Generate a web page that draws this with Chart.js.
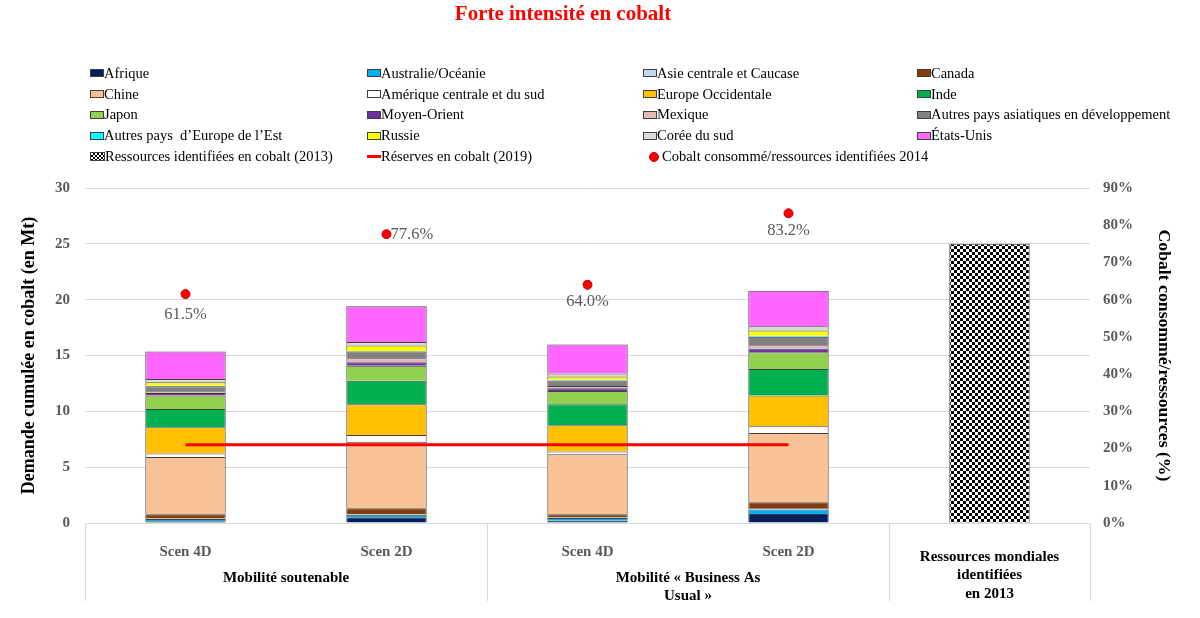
<!DOCTYPE html>
<html><head><meta charset="utf-8">
<script src="https://cdn.jsdelivr.net/npm/chart.js@4.4.1/dist/chart.umd.min.js"></script>
<style>
body{margin:0;background:#fff;width:1200px;height:618px;overflow:hidden;position:relative;font-family:"Liberation Serif",serif}
#title{position:absolute;left:0;width:1126px;top:1px;text-align:center;color:#ff0000;font-weight:bold;font-size:21px;z-index:2}
#legend{position:absolute;left:90px;top:63px;display:grid;grid-template-columns:277px 276px 274px 290px;grid-auto-rows:20.8px;font-size:14.5px;color:#000;z-index:2}
.li{display:flex;align-items:center;white-space:pre}
.li span{flex:0 0 auto}
.sw{width:12px;height:6px;border:1px solid #404040;box-sizing:content-box}
.ln{width:14px;height:3px;background:#ff0000}
.dot{width:8px;height:8px;border-radius:50%;background:#ff0000;border:1px solid #c00000;margin-left:6px;margin-right:3px}
.chk{width:13px;height:7px;background:repeating-conic-gradient(#000 0 25%,#fff 0 50%) 0 0/4px 4px;border:1px solid #404040}
canvas{position:absolute;left:0;top:0}
</style></head>
<body>
<div id="title">Forte intensité en cobalt</div>
<div id="legend"></div>
<canvas id="c" width="1200" height="618"></canvas>
<script>
// ---- data ----
const categories = ["Scen 4D", "Scen 2D", "Scen 4D", "Scen 2D", ""];
const groupLabels = [["Mobilité soutenable"], ["Mobilité « Business As", "Usual »"], ["Ressources mondiales", "identifiées", "en 2013"]];
const groupSpans = [[0, 1], [2, 3], [4, 4]];
const regions = ["Afrique", "Australie/Océanie", "Asie centrale et Caucase", "Canada", "Chine", "Amérique centrale et du sud", "Europe Occidentale", "Inde", "Japon", "Moyen-Orient", "Mexique", "Autres pays asiatiques en développement", "Autres pays  d’Europe de l’Est", "Russie", "Corée du sud", "États-Unis"];
const afrique      = [0.15, 0.51, 0.20, 0.81, null];
const australie    = [0.20, 0.24, 0.24, 0.39, null];
const asieCentrale = [0.05, 0.05, 0.05, 0.15, null];
const canada       = [0.39, 0.51, 0.30, 0.51, null];
const chine        = [5.13, 5.97, 5.37, 6.20, null];
const ameriqueSud  = [0.30, 0.60, 0.24, 0.60, null];
const europeOcc    = [2.36, 2.75, 2.36, 2.75, null];
const inde         = [1.64, 2.12, 1.88, 2.39, null];
const japon        = [1.19, 1.34, 1.19, 1.49, null];
const moyenOrient  = [0.24, 0.30, 0.24, 0.33, null];
const mexique      = [0.15, 0.36, 0.20, 0.30, null];
const autresAsie   = [0.45, 0.60, 0.50, 0.75, null];
const autresEurEst = [0.05, 0.05, 0.05, 0.10, null];
const russie       = [0.30, 0.50, 0.30, 0.48, null];
const coree        = [0.30, 0.30, 0.27, 0.36, null];
const etatsUnis    = [2.45, 3.20, 2.60, 3.19, null];
const ressources2013 = [null, null, null, null, 25];
const reserves2019   = [7, 7, 7, 7, null];
const ratioPct       = [61.5, 77.6, 64.0, 83.2, null];
const ratioLabels    = ["61.5%", "77.6%", "64.0%", "83.2%", null];
const leftTicks  = [0, 5, 10, 15, 20, 25, 30];
const rightTicks = [0, 10, 20, 30, 40, 50, 60, 70, 80, 90];

const regionValues = [afrique, australie, asieCentrale, canada, chine, ameriqueSud, europeOcc, inde, japon, moyenOrient, mexique, autresAsie, autresEurEst, russie, coree, etatsUnis];
const regionColors = ["#002060", "#00B0F0", "#BDD7EE", "#843C0C", "#F8C196", "#FFFFFF", "#FFC000", "#00B050", "#92D050", "#7030A0", "#E6B9B8", "#808080", "#00FFFF", "#FFFF00", "#D9D9D9", "#FF66FF"];

// checker pattern
const pc = document.createElement('canvas'); pc.width = 6; pc.height = 6;
const pctx = pc.getContext('2d');
pctx.fillStyle = '#fff'; pctx.fillRect(0,0,6,6);
pctx.fillStyle = '#000'; pctx.fillRect(0,0,3,3); pctx.fillRect(3,3,3,3);
const ctx = document.getElementById('c').getContext('2d');
const checker = ctx.createPattern(pc, 'repeat');

const datasets = regions.map((r, i) => ({
  type: 'bar', label: r, data: regionValues[i], backgroundColor: regionColors[i],
  borderColor: '#404040', borderWidth: 1, stack: 'a', order: 2, yAxisID: 'y'
}));
datasets.push({type: 'bar', label: 'Ressources identifiées en cobalt (2013)', data: ressources2013, backgroundColor: checker, borderColor: '#404040', borderWidth: 1, stack: 'a', order: 2, yAxisID: 'y'});
datasets.push({type: 'line', label: 'Réserves en cobalt (2019)', data: reserves2019, borderColor: '#FF0000', borderWidth: 3, pointRadius: 0, stack: 'res', order: 1, yAxisID: 'y', spanGaps: false});
datasets.push({type: 'line', label: 'Cobalt consommé/ressources identifiées 2014', data: ratioPct, showLine: false, pointRadius: 4.5, pointBackgroundColor: '#FF0000', pointBorderColor: '#C00000', pointBorderWidth: 1, order: 0, yAxisID: 'y1'});

// legend
const lg = document.getElementById('legend');
datasets.forEach((d, i) => {
  const el = document.createElement('div'); el.className = 'li';
  const sw = document.createElement('span');
  if (i < regions.length) { sw.className = 'sw'; sw.style.background = d.backgroundColor; }
  else if (i === regions.length) sw.className = 'chk';
  else if (i === regions.length + 1) sw.className = 'ln';
  else sw.className = 'dot';
  el.appendChild(sw);
  el.appendChild(document.createTextNode(d.label));
  lg.appendChild(el);
});

const serif = '"Liberation Serif", "Times New Roman", serif';
const extras = {
  id: 'extras',
  afterDraw(chart) {
    const c = chart.ctx, xs = chart.scales.x, ys = chart.scales.y1;
    const bottom = chart.chartArea.bottom;
    c.save();
    c.strokeStyle = '#D9D9D9'; c.lineWidth = 1;
    const bounds = [xs.left, (xs.getPixelForValue(1) + xs.getPixelForValue(2)) / 2, (xs.getPixelForValue(3) + xs.getPixelForValue(4)) / 2, xs.right];
    bounds.forEach(x => { const px = Math.round(x) + 0.5; c.beginPath(); c.moveTo(px, bottom); c.lineTo(px, 601); c.stroke(); });
    // group labels
    c.fillStyle = '#000'; c.font = 'bold 15px ' + serif; c.textAlign = 'center'; c.textBaseline = 'middle';
    groupLabels.forEach((lines, g) => {
      const [a, b] = groupSpans[g];
      const cx = (xs.getPixelForValue(a) + xs.getPixelForValue(b)) / 2;
      const y0 = a === b ? 557 : 578;
      lines.forEach((t, k) => c.fillText(t, cx, y0 + k * 18.5));
    });
    // ratio labels
    c.fillStyle = '#595959'; c.font = '16.5px ' + serif;
    const place = ['below', 'right', 'below', 'below'];
    ratioLabels.forEach((t, i) => {
      if (!t) return;
      const px = xs.getPixelForValue(i), py = ys.getPixelForValue(ratioPct[i]);
      if (place[i] === 'right') { c.textAlign = 'left'; c.fillText(t, px + 4, py + 1); }
      else { c.textAlign = 'center'; c.fillText(t, px, py + (i === 0 ? 21 : 17)); }
    });
    c.restore();
  }
};

new Chart(ctx, {
  data: {labels: categories, datasets},
  options: {
    responsive: false, animation: false,
    layout: {padding: {top: 188, left: 0, right: 0, bottom: 0}},
    plugins: {legend: {display: false}, title: {display: false}, tooltip: {enabled: false}},
    datasets: {bar: {categoryPercentage: 1, barPercentage: 0.4}},
    scales: {
      x: {
        stacked: true, grid: {display: false}, border: {display: true, color: '#D9D9D9'},
        ticks: {color: '#595959', font: {family: serif, size: 15, weight: 'bold'}, padding: 12, maxRotation: 0},
        afterFit: s => { s.height = 95; }
      },
      y: {
        stacked: true, min: 0, max: 30, position: 'left',
        afterBuildTicks: s => { s.ticks = leftTicks.map(v => ({value: v})); },
        grid: {color: '#D9D9D9', drawTicks: false}, border: {display: false},
        ticks: {color: '#595959', font: {family: serif, size: 15, weight: 'bold'}, padding: 15},
        title: {display: true, text: 'Demande cumulée en cobalt (en Mt)', color: '#000', font: {family: serif, size: 18, weight: 'bold'}, padding: {top: 19, bottom: 0}},
        afterFit: s => { s.width = 85; }
      },
      y1: {
        min: 0, max: 90, position: 'right',
        afterBuildTicks: s => { s.ticks = rightTicks.map(v => ({value: v})); },
        grid: {display: false, drawTicks: false}, border: {display: false},
        ticks: {color: '#595959', font: {family: serif, size: 15, weight: 'bold'}, padding: 13, callback: v => v + '%'},
        title: {display: true, text: 'Cobalt consommé/ressources (%)', color: '#000', font: {family: serif, size: 17.7, weight: 'bold'}, padding: {top: 26, bottom: 0}},
        afterFit: s => { s.width = 110; }
      }
    }
  },
  plugins: [extras]
});
</script>
</body></html>
